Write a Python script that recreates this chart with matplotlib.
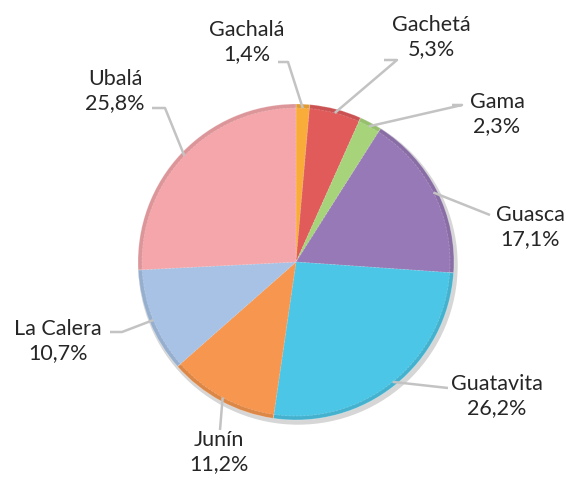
import matplotlib.pyplot as plt
import matplotlib.colors as mcolors
import numpy as np

# municipality shares (%)
names = ["Gachalá", "Gachetá", "Gama", "Guasca", "Guatavita", "Junín", "La Calera", "Ubalá"]
shares = [1.4, 5.3, 2.3, 17.1, 26.2, 11.2, 10.7, 25.8]
colors = ["#F9AC3A", "#E15B5B", "#A7D47A", "#9879B7", "#4BC6E6", "#F6964F", "#A8C2E6", "#F4A6AA"]

# label text centers and elbow of the leader line (pixel coords, top-left origin)
label_pos = [(247, 42), (431, 37), (497, 114), (530, 227), (497, 396), (219, 452), (58, 341), (115, 91)]
elbow = [(288, 62), (397, 60), (462, 105), (490, 215), (448, 388), (220, 430), (122, 332), (165, 108)]
line_start = [(278, 62), (384, 60), (452, 105), (490, 215), (448, 388), (220, 430), (110, 332), (152, 108)]

W, H = 570, 478
cx, cy, R = 296, 262, 158

fig = plt.figure(figsize=(W / 100, H / 100), dpi=100)
ax = fig.add_axes([0, 0, 1, 1])

def darker(c, f=0.9):
    r, g, b = mcolors.to_rgb(c)
    return (r * f, g * f, b * f)

# soft shadow
shadow = plt.Circle((cx + 2, H - cy - 3), R + 1, color="#d6d6d6", zorder=0)
ax.add_patch(shadow)

wedges, _ = ax.pie(shares, colors=[darker(c) for c in colors], startangle=90, counterclock=False,
                   center=(cx, H - cy), radius=R, frame=True,
                   wedgeprops=dict(edgecolor=(1, 1, 1, 0.3), linewidth=0.6))
ax.pie(shares, colors=colors, startangle=90, counterclock=False,
       center=(cx, H - cy), radius=R - 4, frame=True,
       wedgeprops=dict(edgecolor=(1, 1, 1, 0.25), linewidth=0.5, linestyle="--"))
ax.set_xlim(0, W)
ax.set_ylim(0, H)
ax.set_aspect("equal")
ax.axis("off")

# labels with leader lines
for w, name, s, (tx, ty), (ex, ey), (sx, sy) in zip(wedges, names, shares, label_pos, elbow, line_start):
    ang = np.deg2rad((w.theta1 + w.theta2) / 2)
    px = cx + (R - 4) * np.cos(ang)
    py = (H - cy) + (R - 4) * np.sin(ang)
    ax.plot([sx, ex, px], [H - sy, H - ey, py], color="#c3c3c3", lw=1.8, zorder=1,
            solid_capstyle="butt")
    ax.text(tx, H - ty, f"{name}\n{s:.1f}%".replace(".", ","), ha="center", va="center",
            fontsize=15.5, family="Lato", color="#262626", linespacing=1.3)

fig.savefig("out.png", dpi=100)
